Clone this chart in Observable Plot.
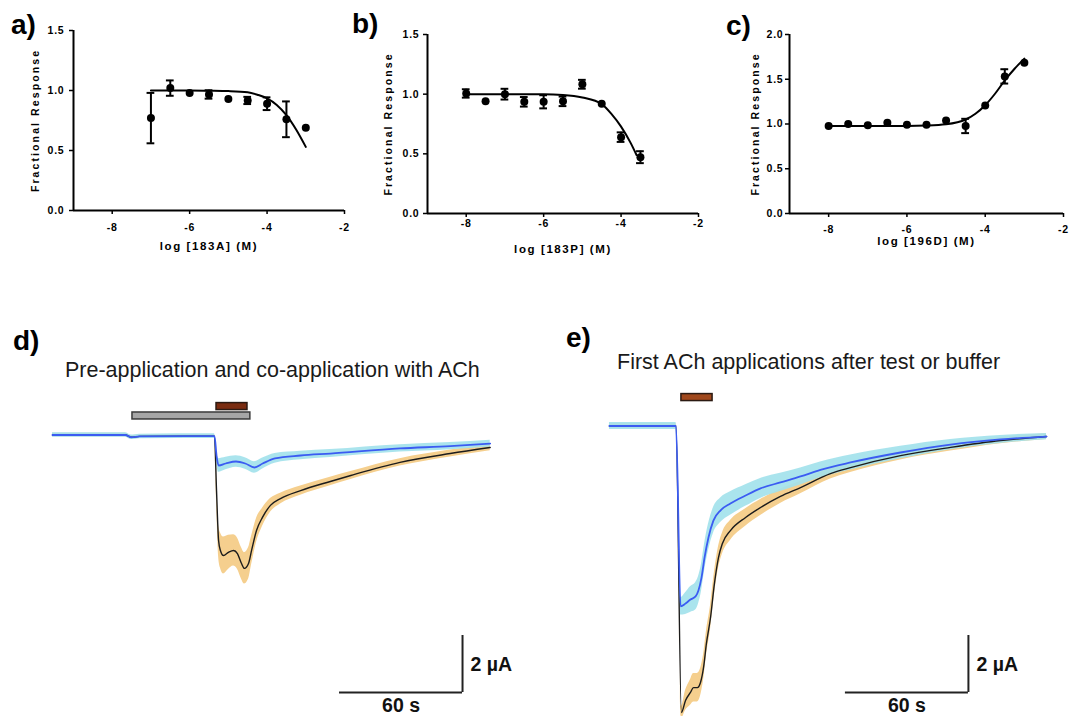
<!DOCTYPE html>
<html><head><meta charset="utf-8">
<script src="https://cdn.jsdelivr.net/npm/d3@7"></script>
<script src="https://cdn.jsdelivr.net/npm/@observablehq/plot@0.6"></script>
<style>
body{margin:0;background:#fff;}
#fig{position:relative;width:1072px;height:716px;overflow:hidden;background:#fff;font-family:"Liberation Sans",Arial,sans-serif;}
.panel{position:absolute;}
#overlay{position:absolute;left:0;top:0;pointer-events:none;}
</style></head><body><div id="fig"></div>
<script>
// ---------- Data: panel a (183A) ----------
const aLogConc = [-7, -6.5, -6, -5.5, -5, -4.5, -4, -3.5, -3];
const aResp    = [0.77, 1.02, 0.98, 0.967, 0.93, 0.917, 0.89, 0.76, 0.689];
const aSem     = [0.21, 0.064, 0, 0.035, 0, 0.03, 0.053, 0.149, 0];
const aFitX    = [-7, -6, -5.5, -5, -4.5, -4.25, -4, -3.75, -3.5, -3.25, -3];
const aFitY    = [1.0, 1.0, 0.998, 0.995, 0.985, 0.965, 0.935, 0.88, 0.795, 0.675, 0.53];
// ---------- Data: panel b (183P) ----------
const bLogConc = [-8, -7.5, -7, -6.5, -6, -5.5, -5, -4.5, -4, -3.5];
const bResp    = [1.006, 0.94, 1.0, 0.936, 0.936, 0.94, 1.083, 0.92, 0.64, 0.472];
const bSem     = [0.035, 0, 0.045, 0.04, 0.055, 0.04, 0.037, 0, 0.04, 0.05];
const bFitX    = [-8, -6, -5.5, -5, -4.5, -4.25, -4, -3.75, -3.6];
const bFitY    = [1.0, 1.0, 0.994, 0.972, 0.917, 0.835, 0.728, 0.59, 0.49];
// ---------- Data: panel c (196D) ----------
const cLogConc = [-8, -7.5, -7, -6.5, -6, -5.5, -5, -4.5, -4, -3.5, -3];
const cResp    = [0.978, 1.0, 0.985, 1.015, 0.993, 0.993, 1.04, 0.978, 1.208, 1.532, 1.684];
const cSem     = [0, 0, 0, 0, 0, 0, 0, 0.08, 0, 0.08, 0];
const cFitX    = [-8, -6, -5.5, -5, -4.5, -4.25, -4, -3.75, -3.5, -3.25, -3];
const cFitY    = [0.978, 0.978, 0.982, 0.996, 1.05, 1.115, 1.21, 1.338, 1.487, 1.617, 1.73];
const xTicks = [-8, -6, -4, -2];
const yTicksAB = [0, 0.5, 1.0, 1.5];
const yTicksC = [0, 0.5, 1.0, 1.5, 2.0];

// ---------- Data: panel d traces (time s, current µA) ----------
const dBlueT  = [-79.5, -44, -41, -37, -0.5, 0.5, 1.5, 5, 10, 14.5, 19, 23, 29, 41.5, 56, 90, 114.5, 134];
const dBlueI  = [0, 0, -0.08, -0.05, -0.04, -0.72, -1.07, -1.0, -0.93, -1.0, -1.14, -1.0, -0.82, -0.72, -0.65, -0.47, -0.39, -0.30];
const dBlueSd = [0.08, 0.08, 0.08, 0.08, 0.08, 0.18, 0.24, 0.22, 0.2, 0.2, 0.2, 0.19, 0.17, 0.15, 0.14, 0.13, 0.13, 0.12];
const dBlackT  = [-79.5, -44, -41, -37, -0.5, 0.5, 1.5, 2.4, 3.9, 6.3, 8.8, 10.7, 12.7, 14.1, 16.1, 17.6, 20, 22.9, 26.8, 31.7, 41.5, 56, 66, 90, 114.5, 134];
const dBlackI  = [0, 0, -0.08, -0.05, -0.04, -1.95, -3.7, -4.05, -4.23, -4.12, -4.05, -4.16, -4.51, -4.68, -4.51, -4.05, -3.35, -2.89, -2.47, -2.23, -1.95, -1.63, -1.42, -0.96, -0.65, -0.44];
const dBlackSd = [0.06, 0.06, 0.06, 0.06, 0.06, 0.35, 0.55, 0.62, 0.65, 0.6, 0.55, 0.55, 0.55, 0.55, 0.55, 0.5, 0.42, 0.32, 0.24, 0.19, 0.16, 0.15, 0.14, 0.13, 0.12, 0.11];
const dAppStart = [-40.5, 0.5];
const dAppEnd   = [17, 15.6];
const dAppAgent = ["test", "ACh"];

// ---------- Data: panel e traces ----------
const eBlueT  = [-32.7, -0.25, 2.0, 4.4, 6.8, 9.3, 10.7, 12.2, 13.7, 15.6, 18, 21.5, 26.3, 33.7, 41, 50.7, 60.5, 70.2, 84.9, 109.3, 133.7, 158, 180.5];
const eBlueI  = [0, 0, -6.33, -6.23, -6.09, -5.98, -5.77, -5.32, -4.61, -3.91, -3.32, -2.96, -2.72, -2.44, -2.19, -1.98, -1.77, -1.54, -1.28, -0.93, -0.65, -0.47, -0.37];
const eBlueSd = [0.12, 0.12, 0.3, 0.38, 0.45, 0.48, 0.48, 0.48, 0.48, 0.47, 0.45, 0.43, 0.41, 0.38, 0.35, 0.32, 0.3, 0.28, 0.26, 0.22, 0.18, 0.14, 0.11];
const eBlackT  = [-32.7, -0.25, 2.4, 4.4, 6.8, 8.3, 10.2, 11.7, 13.2, 14.6, 16.6, 18.5, 20.5, 22.4, 26.3, 33.7, 41, 50.7, 60.5, 75.1, 84.9, 109.3, 133.7, 158, 180.5];
const eBlackI  = [0, 0, -10.05, -9.63, -9.35, -9.18, -9.18, -9.0, -8.47, -7.63, -6.72, -5.53, -4.61, -4.12, -3.67, -3.21, -2.86, -2.47, -2.16, -1.67, -1.46, -1.04, -0.75, -0.51, -0.37];
const eBlackSd = [0.08, 0.08, 0.22, 0.35, 0.45, 0.5, 0.5, 0.48, 0.45, 0.43, 0.42, 0.4, 0.38, 0.37, 0.35, 0.31, 0.28, 0.25, 0.22, 0.19, 0.17, 0.15, 0.13, 0.11, 0.1];
const eAppStart = [2.4];
const eAppEnd   = [17.6];
const eAppAgent = ["ACh"];

const SCALE_T = 60;   // s
const SCALE_I = 2;    // µA

// ---------- layout helpers ----------
const fig = document.getElementById("fig");
const FONT = '"Liberation Sans", Arial, sans-serif';
function place(node, left, top, w, h) {
  const div = document.createElement("div");
  div.className = "panel";
  div.style.left = left + "px"; div.style.top = top + "px";
  div.style.width = w + "px"; div.style.height = h + "px";
  div.appendChild(node);
  fig.appendChild(div);
}

function dosePanel(cfg) {
  const pts = cfg.x.map((x, i) => ({x, y: cfg.y[i], e: cfg.e[i]}));
  const fit = cfg.fx.map((x, i) => ({x, y: cfg.fy[i]}));
  const bars = pts.filter(d => d.e > 0);
  const cap = 0.1;
  const yMax = cfg.yTicks[cfg.yTicks.length - 1];
  const svg = Plot.plot({
    width: cfg.w, height: cfg.h,
    marginLeft: cfg.mL, marginRight: cfg.w - cfg.xEnd, marginTop: cfg.mT, marginBottom: cfg.h - cfg.yBottom,
    x: {domain: [-9, -2], axis: null},
    y: {domain: [0, yMax], axis: null},
    style: {fontFamily: FONT, fontSize: "10.5px", fontWeight: "bold", letterSpacing: "0.8px", color: "#000", background: "transparent", overflow: "visible"},
    marks: [
      Plot.ruleY([0], {x1: -9, x2: -2, strokeWidth: 2, stroke: "#000"}),
      Plot.ruleX([-9], {y1: 0, y2: yMax, strokeWidth: 2, stroke: "#000"}),
      Plot.axisX({ticks: xTicks, tickFormat: d => String(d), tickSize: 4, tickPadding: cfg.xPad, strokeWidth: 1.5, label: null}),
      Plot.axisY({ticks: cfg.yTicks, tickFormat: d => d.toFixed(1), tickSize: 4, tickPadding: cfg.yPad, strokeWidth: 1.5, label: null}),
      Plot.text([cfg.xLabel], {frameAnchor: "bottom", dy: cfg.xLabOff, lineAnchor: "middle", textAnchor: "middle", fontSize: 11.5, fontWeight: "bold"}),
      Plot.text(["Fractional Response"], {frameAnchor: "left", dx: -cfg.yLabOff, rotate: -90, textAnchor: "middle", lineAnchor: "middle", fontSize: 10.5, fontWeight: "bold"}),
      Plot.line(fit, {x: "x", y: "y", curve: "monotone-x", strokeWidth: 2, stroke: "#000"}),
      Plot.ruleX(bars, {x: "x", y1: d => d.y - d.e, y2: d => d.y + d.e, strokeWidth: 2, stroke: "#000"}),
      Plot.ruleY(bars, {y: d => d.y - d.e, x1: d => d.x - cap, x2: d => d.x + cap, strokeWidth: 2, stroke: "#000"}),
      Plot.ruleY(bars, {y: d => d.y + d.e, x1: d => d.x - cap, x2: d => d.x + cap, strokeWidth: 2, stroke: "#000"}),
      Plot.dot(pts, {x: "x", y: "y", r: 4, fill: "#000", stroke: "none"})
    ]
  });
  d3.select(svg).selectAll("text").each(function () {
    if (this.textContent === cfg.xLabel) this.style.letterSpacing = "1.6px";
    if (this.textContent === "Fractional Response") this.style.letterSpacing = "2.1px";
  });
  place(svg, cfg.left, cfg.top, cfg.w, cfg.h);
}

dosePanel({left: 0, top: 0, w: 350, h: 260, mL: 73, xEnd: 344, mT: 30, yBottom: 210,
  x: aLogConc, y: aResp, e: aSem, fx: aFitX, fy: aFitY, yTicks: yTicksAB,
  xLabel: "log [183A] (M)", xPad: 9, yPad: 5, xLabOff: 36, yLabOff: 37.5});
dosePanel({left: 350, top: 0, w: 350, h: 260, mL: 77, xEnd: 348, mT: 34, yBottom: 213,
  x: bLogConc, y: bResp, e: bSem, fx: bFitX, fy: bFitY, yTicks: yTicksAB,
  xLabel: "log [183P] (M)", xPad: 2, yPad: 4, xLabOff: 36, yLabOff: 39});
dosePanel({left: 700, top: 0, w: 372, h: 260, mL: 89, xEnd: 363, mT: 34, yBottom: 213,
  x: cLogConc, y: cResp, e: cSem, fx: cFitX, fy: cFitY, yTicks: yTicksC,
  xLabel: "log [196D] (M)", xPad: 8.5, yPad: 2, xLabOff: 28, yLabOff: 34});

// ---------- trace panels ----------
const PX_PER_S = 123 / SCALE_T, PX_PER_UA = 57 / SCALE_I;
const CYAN = "#a3e2ec", BLUE = "#3b5cf2", ORANGE = "#f5cf8e", DARK = "#1c1c1c";
const rows = (T, I, S) => T.map((t, i) => ({t, I: I[i], lo: I[i] - S[i], hi: I[i] + S[i]}));
const apps = (S, E, A) => S.map((s, i) => ({start: s, end: E[i], agent: A[i]}));
const ROW = {ACh: [0.875, 1.12], test: [0.545, 0.79]};

function tracePanel(cfg) {
  const blue = rows(cfg.bT, cfg.bI, cfg.bS);
  const black = rows(cfg.kT, cfg.kI, cfg.kS);
  const ap = apps(cfg.aS, cfg.aE, cfg.aA);
  const w = cfg.w, h = cfg.h;
  const sb = cfg.bar;
  const svg = Plot.plot({
    width: w, height: h, margin: 0,
    x: {domain: [-cfg.x0 / PX_PER_S, (w - cfg.x0) / PX_PER_S], range: [0, w], axis: null},
    y: {domain: [-(h - cfg.y0) / PX_PER_UA, cfg.y0 / PX_PER_UA], range: [h, 0], axis: null},
    style: {fontFamily: FONT, background: "transparent", overflow: "visible", color: "#000"},
    marks: [
      Plot.rect(ap.filter(d => d.agent === "test"), {x1: "start", x2: "end", y1: ROW.test[0], y2: ROW.test[1], fill: "#a6a6a6", stroke: "#3a3a3a", strokeWidth: 1.5}),
      Plot.rect(ap.filter(d => d.agent === "ACh"), {x1: "start", x2: "end", y1: ROW.ACh[0], y2: ROW.ACh[1], fill: cfg.achFill, stroke: "#2b1a12", strokeWidth: 1.5}),
      Plot.areaY(black, {x: "t", y1: "lo", y2: "hi", fill: ORANGE, curve: "monotone-x"}),
      Plot.areaY(blue, {x: "t", y1: "lo", y2: "hi", fill: CYAN, fillOpacity: 0.92, curve: "monotone-x"}),
      Plot.line(black, {x: "t", y: "I", stroke: DARK, strokeWidth: 1.4, curve: "monotone-x"}),
      Plot.line(blue, {x: "t", y: "I", stroke: BLUE, strokeWidth: 1.8, curve: "monotone-x"}),
      Plot.ruleY([sb.I], {x1: sb.t - SCALE_T, x2: sb.t, stroke: "#222", strokeWidth: 2}),
      Plot.ruleX([sb.t], {y1: sb.I, y2: sb.I + SCALE_I, stroke: "#222", strokeWidth: 2}),
      Plot.text([`${SCALE_I} µA`], {x: sb.t, y: sb.I + SCALE_I / 2, dx: 8, dy: 1, textAnchor: "start", fontSize: 19.5, fontWeight: "bold", fill: "#111"}),
      Plot.text([`${SCALE_T} s`], {x: sb.t - SCALE_T / 2, y: sb.I, dy: 13, textAnchor: "middle", fontSize: 19.5, fontWeight: "bold", fill: "#111"})
    ]
  });
  place(svg, cfg.left, cfg.top, w, h);
}

tracePanel({left: 0, top: 380, w: 536, h: 336, x0: 215, y0: 54.5,
  bT: dBlueT, bI: dBlueI, bS: dBlueSd, kT: dBlackT, kI: dBlackI, kS: dBlackSd,
  aS: dAppStart, aE: dAppEnd, aA: dAppAgent, achFill: "#7a2c10",
  bar: {t: 120.5, I: -9.035}});
tracePanel({left: 536, top: 380, w: 536, h: 336, x0: 140, y0: 45.5,
  bT: eBlueT, bI: eBlueI, bS: eBlueSd, kT: eBlackT, kI: eBlackI, kS: eBlackSd,
  aS: eAppStart, aE: eAppEnd, aA: eAppAgent, achFill: "#a0481c",
  bar: {t: 142.4, I: -9.35}});

// ---------- panel letters and titles ----------
const ov = d3.select(fig).append("svg").attr("id", "overlay").attr("width", 1072).attr("height", 716)
  .style("font-family", FONT);
const letters = [["a)", 11, 34], ["b)", 352, 33], ["c)", 726, 35], ["d)", 13, 350], ["e)", 566, 347]];
ov.selectAll("text.lab").data(letters).join("text").attr("class", "lab")
  .attr("x", d => d[1]).attr("y", d => d[2]).text(d => d[0])
  .attr("font-size", 28).attr("font-weight", "bold").attr("fill", "#000");
const titles = [["Pre-application and co-application with ACh", 65, 377], ["First ACh applications after test or buffer", 617, 369]];
ov.selectAll("text.ttl").data(titles).join("text").attr("class", "ttl")
  .attr("x", d => d[1]).attr("y", d => d[2]).text(d => d[0])
  .attr("font-size", 21.5).attr("fill", "#1a1a1a");
</script></body></html>
